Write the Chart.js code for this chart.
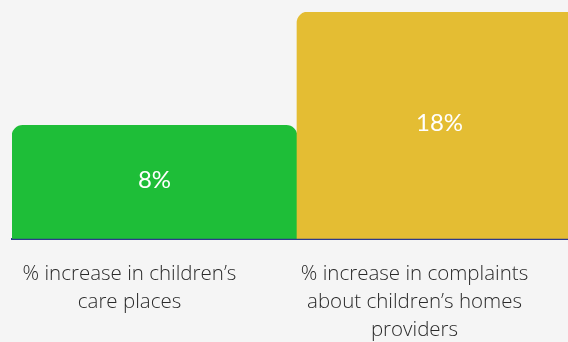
<!DOCTYPE html>
<html>
<head>
<meta charset="utf-8">
<script src="https://cdn.jsdelivr.net/npm/chart.js@4"></script>
<style>
  html, body { margin: 0; padding: 0; background: #f5f5f5; overflow: hidden; }
  #wrap { width: 584px; height: 357px; }
</style>
</head>
<body>
<div id="wrap"><canvas id="myChart" width="584" height="357"></canvas></div>
<script>
const categories = [
    ['% increase in children\u2019s', 'care places'],
    ['% increase in complaints', 'about children\u2019s homes', 'providers']
];
const values = [8, 18];
const valueLabels = ['8%', '18%'];
const barColors = ['#1ebe38', '#e4bd33'];

// draws the value text in the middle of each bar
const barText = {
    id: 'barText',
    afterDatasetsDraw(chart) {
        const ctx = chart.ctx;
        const meta = chart.getDatasetMeta(0);
        ctx.save();
        ctx.fillStyle = '#ffffff';
        ctx.font = '24px Lato';
        ctx.textAlign = 'center';
        ctx.textBaseline = 'middle';
        meta.data.forEach((bar, i) => {
            const { x, y, base } = bar.getProps(['x', 'y', 'base'], true);
            ctx.fillText(valueLabels[i], x, (y + base) / 2 - 2);
        });
        ctx.restore();
    }
};

const ctx = document.getElementById('myChart').getContext('2d');
new Chart(ctx, {
    type: 'bar',
    data: {
        labels: categories,
        datasets: [{
            data: values,
            base: -2,
            backgroundColor: barColors,
            borderRadius: { topLeft: 11, topRight: 11, bottomLeft: 0, bottomRight: 0 },
            borderSkipped: 'bottom',
            categoryPercentage: 1,
            barPercentage: 1
        }]
    },
    options: {
        responsive: false,
        animation: false,
        layout: { padding: { left: 12, right: 2, top: 12, bottom: 0 } },
        plugins: {
            legend: { display: false },
            tooltip: { enabled: false }
        },
        scales: {
            y: {
                display: false,
                min: -2,
                max: 18
            },
            x: {
                grid: { display: false },
                border: { display: true, color: '#2d3a8c', width: 2 },
                ticks: {
                    color: '#2a2a2a',
                    font: { family: 'Open Sans', size: 20.5, weight: '300', lineHeight: 1.37 },
                    padding: 13,
                    maxRotation: 0,
                    autoSkip: false,
                    labelOffset: -25
                }
            }
        }
    },
    plugins: [barText]
});
</script>
</body>
</html>
